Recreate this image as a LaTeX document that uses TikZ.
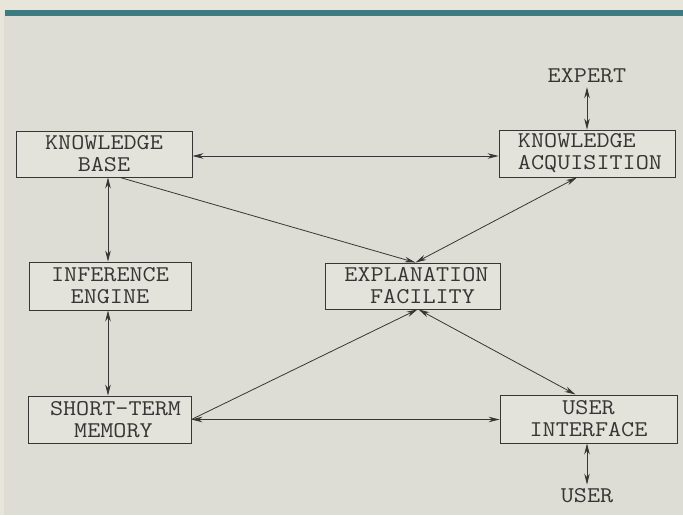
\documentclass[tikz,border=0pt]{standalone}
\usepackage{fontspec}
\setmonofont[FakeStretch=1.13]{Latin Modern Mono}
\usetikzlibrary{arrows.meta}
\definecolor{bgpaper}{HTML}{DDDCD5}
\definecolor{boxfill}{HTML}{E3E2DB}
\definecolor{margincol}{HTML}{E8E5DB}
\definecolor{barcol}{HTML}{3E7B80}
\definecolor{ink}{HTML}{363634}
\tikzset{
  blk/.style={draw=ink, line width=0.9pt, fill=boxfill, inner sep=0pt,
    font=\ttfamily\fontsize{22.5}{22}\selectfont, text=ink, align=center},
  lbl/.style={inner sep=4pt, font=\ttfamily\fontsize{22.5}{22}\selectfont, text=ink},
  conn/.style={draw=ink, line width=0.8pt},
  two/.style={conn, {Stealth[length=11pt,width=5.5pt]}-{Stealth[length=11pt,width=5.5pt]}},
  one/.style={conn, -{Stealth[length=11pt,width=5.5pt]}}
}
\begin{document}
\begin{tikzpicture}[x=1pt,y=-1pt]
\useasboundingbox (0,0) rectangle (683,515);
\fill[margincol] (0,0) rectangle (683,515);
\fill[bgpaper] (4,16) rectangle (683,515);
\fill[barcol] (5,10) rectangle (683,16);

\node[blk, minimum width=176pt, minimum height=46pt] (kb) at (104,154) {KNOWLEDGE\\BASE};
\node[blk, minimum width=176pt, minimum height=47pt, align=left] (ka) at (587,153.5) {\hspace*{6pt}KNOWLEDGE\\\hspace*{6pt}ACQUISITION};
\node[blk, minimum width=162pt, minimum height=48pt] (ie) at (110,286) {INFERENCE\\ENGINE};
\node[blk, minimum width=175pt, minimum height=46pt] (ex) at (412.5,286) {\hspace*{8pt}EXPLANATION\\\hspace*{20pt}FACILITY};
\node[blk, minimum width=163pt, minimum height=47pt] (stm) at (109.5,419.5) {\hspace*{12pt}SHORT-TERM\\\hspace*{8pt}MEMORY};
\node[blk, minimum width=177pt, minimum height=48pt] (ui) at (588.5,419) {USER\\INTERFACE};
\node[lbl] (expert) at (587,76) {EXPERT};
\node[lbl] (user) at (587,496) {USER};

\draw[two] ([yshift=-2pt]kb.east) -- ([yshift=-2pt]kb.east -| ka.west);
\draw[two] ([xshift=-2pt]ie.north) -- ([xshift=-2pt]ie.north |- kb.south);
\draw[two] ([xshift=-2pt]ie.south) -- ([xshift=-2pt]ie.south |- stm.north);
\draw[one] ([xshift=16pt]kb.south) -- ([xshift=3pt]ex.north);
\draw[two] ([xshift=-10pt]ka.south) -- ([xshift=3pt]ex.north);
\draw[one] (stm.east) -- ([xshift=5pt]ex.south);
\draw[two] ([xshift=6pt]ex.south) -- ([xshift=-13pt]ui.north);
\draw[two] (stm.east) -- (stm.east -| ui.west);
\draw[two] (expert.south) -- (expert.south |- ka.north);
\draw[two] (ui.south -| user.north) -- (user.north);
\end{tikzpicture}
\end{document}
